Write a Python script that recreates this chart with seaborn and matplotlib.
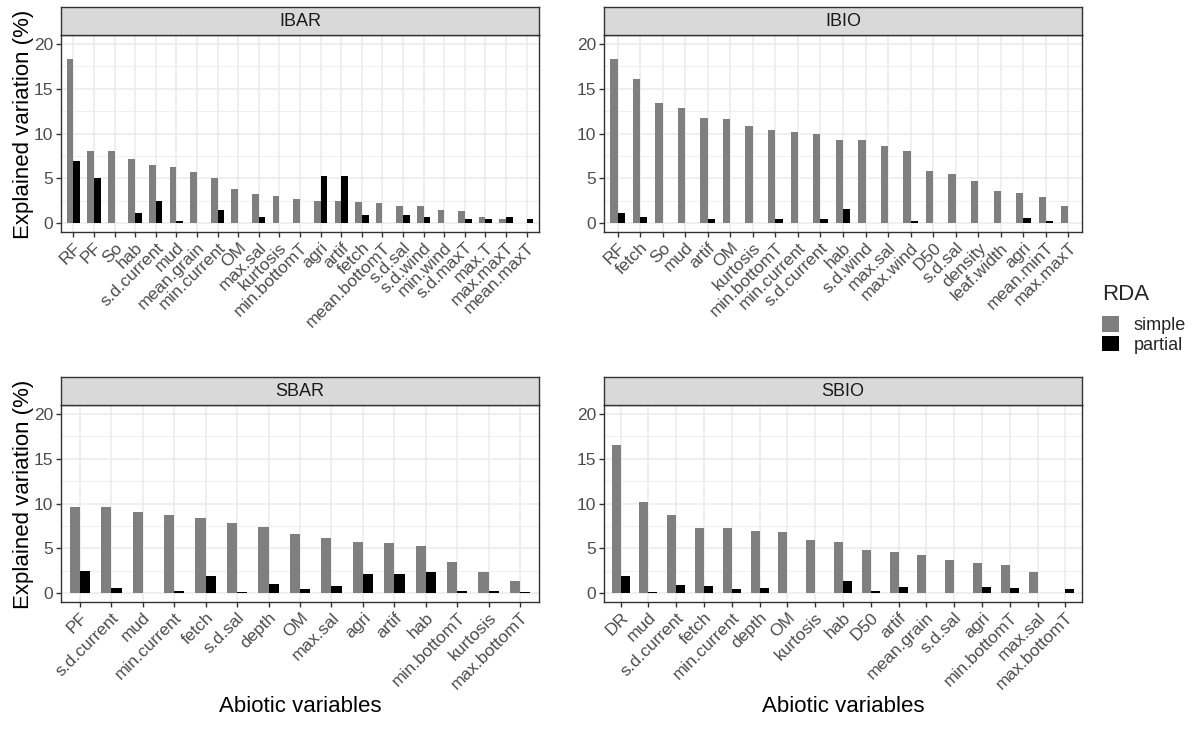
import numpy as np
import pandas as pd
import matplotlib
matplotlib.use("Agg")
import matplotlib.pyplot as plt
from matplotlib.patches import Patch
from matplotlib.ticker import NullLocator
import seaborn as sns

# ---------------- data ----------------
ibar_vars = ["RF", "PF", "So", "hab", "s.d.current", "mud", "mean.grain", "min.current",
             "OM", "max.sal", "kurtosis", "min.bottomT", "agri", "artif", "fetch",
             "mean.bottomT", "s.d.sal", "s.d.wind", "min.wind", "s.d.maxT", "max.T",
             "max.maxT", "mean.maxT"]
ibar_simple = [18.3, 8.1, 8.0, 7.2, 6.5, 6.3, 5.7, 5.0, 3.8, 3.2, 3.0, 2.7, 2.5, 2.5, 2.4,
               2.2, 1.9, 1.9, 1.5, 1.4, 0.7, 0.5, np.nan]
ibar_partial = [6.9, 5.0, np.nan, 1.1, 2.5, 0.2, np.nan, 1.5, np.nan, 0.7, np.nan, np.nan,
                5.2, 5.3, 0.9, np.nan, 0.9, 0.7, np.nan, 0.5, 0.5, 0.7, 0.4]

ibio_vars = ["RF", "fetch", "So", "mud", "artif", "OM", "kurtosis", "min.bottomT",
             "min.current", "s.d.current", "hab", "s.d.wind", "max.sal", "max.wind", "D50",
             "s.d.sal", "density", "leaf.width", "agri", "mean.minT", "max.maxT"]
ibio_simple = [18.3, 16.1, 13.4, 12.8, 11.7, 11.6, 10.8, 10.4, 10.2, 10.0, 9.3, 9.3, 8.6,
               8.0, 5.8, 5.5, 4.7, 3.6, 3.4, 2.9, 1.9]
ibio_partial = [1.1, 0.7, np.nan, np.nan, 0.4, np.nan, np.nan, 0.5, np.nan, 0.4, 1.6, np.nan,
                np.nan, 0.2, np.nan, np.nan, np.nan, np.nan, 0.6, 0.2, np.nan]

sbar_vars = ["PF", "s.d.current", "mud", "min.current", "fetch", "s.d.sal", "depth", "OM",
             "max.sal", "agri", "artif", "hab", "min.bottomT", "kurtosis", "max.bottomT"]
sbar_simple = [9.6, 9.6, 9.0, 8.7, 8.4, 7.8, 7.4, 6.6, 6.2, 5.7, 5.6, 5.3, 3.5, 2.3, 1.3]
sbar_partial = [2.5, 0.6, np.nan, 0.25, 1.9, 0.15, 1.0, 0.5, 0.8, 2.1, 2.1, 2.4, 0.25, 0.25, 0.15]

sbio_vars = ["DR", "mud", "s.d.current", "fetch", "min.current", "depth", "OM", "kurtosis",
             "hab", "D50", "artif", "mean.grain", "s.d.sal", "agri", "min.bottomT",
             "max.sal", "max.bottomT"]
sbio_simple = [16.5, 10.2, 8.7, 7.3, 7.3, 6.9, 6.8, 5.9, 5.7, 4.8, 4.6, 4.3, 3.7, 3.4, 3.1,
               2.3, np.nan]
sbio_partial = [1.9, 0.15, 0.9, 0.8, 0.4, 0.6, np.nan, np.nan, 1.3, 0.25, 0.7, np.nan, np.nan,
                0.7, 0.6, np.nan, 0.4]

rda_levels = ["simple", "partial"]
rda_colors = {"simple": "#7F7F7F", "partial": "#000000"}

# ---------------- style ----------------
sns.set_theme(style="white")
plt.rcParams["font.family"] = ["Liberation Sans", "DejaVu Sans"]

W, H = 1196, 729
fig = plt.figure(figsize=(W / 100, H / 100), dpi=100)
fig.patch.set_facecolor("white")


def rect(left, top, w, h):
    return [left / W, 1 - (top + h) / H, w / W, h / H]


PW, PH, SH = 478, 197, 28
panels = [
    ("IBAR", ibar_vars, ibar_simple, ibar_partial, 61, 35, True, False),
    ("IBIO", ibio_vars, ibio_simple, ibio_partial, 604, 35, False, False),
    ("SBAR", sbar_vars, sbar_simple, sbar_partial, 61, 405, True, True),
    ("SBIO", sbio_vars, sbio_simple, sbio_partial, 604, 405, False, True),
]

dark = "#333333"
for title, vars_, simple, partial, left, top, ylab, xlab in panels:
    n = len(vars_)
    df = pd.DataFrame({
        "var": vars_ + vars_,
        "RDA": ["simple"] * n + ["partial"] * n,
        "value": list(simple) + list(partial),
    })
    ax = fig.add_axes(rect(left, top, PW, PH))
    sns.barplot(data=df, x="var", y="value", hue="RDA", order=vars_,
                hue_order=rda_levels, palette=rda_colors, width=0.65,
                saturation=1, errorbar=None, legend=False, linewidth=0, ax=ax)
    ax.set_xlim(-0.6, n - 0.4)
    ax.set_ylim(-1, 21)
    ax.set_yticks([0, 5, 10, 15, 20])
    ax.set_yticks([2.5, 7.5, 12.5, 17.5], minor=True)
    ax.xaxis.set_minor_locator(NullLocator())
    ax.set_axisbelow(True)
    ax.grid(True, which="major", color="#EBEBEB", linewidth=1.1)
    ax.grid(True, which="minor", axis="y", color="#EBEBEB", linewidth=0.55)
    for sp in ax.spines.values():
        sp.set_color(dark)
        sp.set_linewidth(1.0)
    ax.tick_params(axis="both", which="major", length=3.8, width=1.0, color=dark,
                   labelcolor="#4D4D4D", labelsize=12.5, pad=2,
                   bottom=True, left=True)
    ax.tick_params(which="minor", length=0)
    plt.setp(ax.get_xticklabels(), rotation=45, ha="right", va="top",
             rotation_mode="anchor")
    if ylab:
        ax.set_ylabel("Explained variation (%)", fontsize=16, color="black")
        ax.yaxis.set_label_coords(-0.0565, 0.548)
    else:
        ax.set_ylabel("")
    if xlab:
        ax.set_xlabel("Abiotic variables", fontsize=16, color="black")
        ax.xaxis.set_label_coords(0.5, -0.477)
    else:
        ax.set_xlabel("")

    sax = fig.add_axes(rect(left, top - SH, PW, SH))
    sax.set_facecolor("#D9D9D9")
    sax.set_xticks([])
    sax.set_yticks([])
    for sp in sax.spines.values():
        sp.set_color(dark)
        sp.set_linewidth(1.0)
    sax.text(0.5, 0.5, title, ha="center", va="center", fontsize=13,
             color="#1A1A1A", transform=sax.transAxes)

handles = [Patch(facecolor=rda_colors[k], edgecolor="none", label=k) for k in rda_levels]
leg = fig.legend(handles=handles, title="RDA", loc="upper left",
                 bbox_to_anchor=(1102 / W, 1 - 284 / H), frameon=False, fontsize=13,
                 title_fontsize=16, handlelength=0.95, handleheight=0.95,
                 handletextpad=0.8, labelspacing=0.1, borderpad=0, borderaxespad=0,
                 alignment="left")
leg._legend_box.sep = 8

fig.savefig("out.png", dpi=100, facecolor="white")
